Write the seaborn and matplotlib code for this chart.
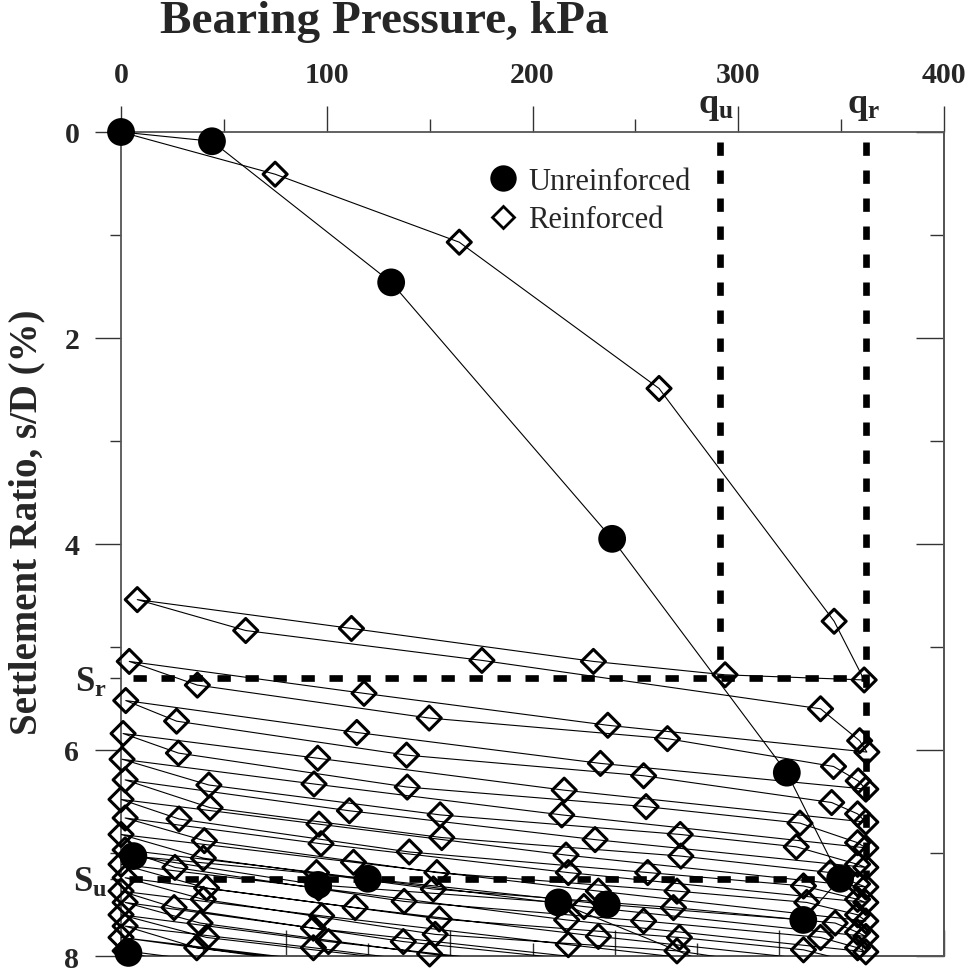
import matplotlib
matplotlib.use("Agg")
import matplotlib.pyplot as plt
from matplotlib.lines import Line2D
from matplotlib.ticker import FixedLocator
import seaborn as sns
import pandas as pd

# guide values (kPa, %)
q_u, q_r = 291, 362
s_r, s_u = 5.3, 7.25

# unreinforced footing (points past 8 % fall outside the frame)
unrf_p = [0, 44.2, 131.3, 238.7, 323.6, 349.5, 331.6, 236.1, 120, 6, 95.8, 212.6, 320, 60, 3.6]
unrf_s = [0, 0.09, 1.46, 3.95, 6.22, 7.25, 7.65, 7.50, 7.25, 7.03, 7.31, 7.48, 8.35, 8.2, 7.97]

# reinforced footing: first loading, then unload / reload cycles
rf_p = [0, 74.9, 164.4, 261.5, 346.6, 361.2,
        293.6, 229.6, 112, 7.9,
        60.6, 175.4, 340, 359, 362.5,
        236.6, 118.1, 4,
        37.1, 149.8, 265.6, 346.3, 358.3, 362,
        233, 114.6, 2.3,
        27, 138.8, 254, 345.4, 358, 362,
        215.4, 95.6, 1,
        27.9, 139.1, 255.2, 330, 358, 362,
        214.2, 93.8, 0.5,
        42.7, 155.1, 271.8, 328.2, 358, 362,
        230.4, 111, 2,
        43.3, 155.9, 272.1, 344.8, 358, 362,
        216.3, 96.2, 0,
        28.2, 140.1, 256, 331.7, 358, 362,
        217.4, 97.2, 2,
        40.5, 153.5, 270.2, 333.3, 358, 362,
        232, 113, 0,
        40, 151.8, 268.5, 347.1, 358, 362,
        225, 95, 2,
        26.2, 137.6, 254, 340, 358, 362,
        216.6, 96, 0,
        41.6, 154.7, 271.4, 331.7, 362,
        232, 113.8, 2,
        40, 152.7, 270.2, 362,
        217.4, 97.5, 0,
        25.8, 137.2, 362,
        230, 93.5, 2,
        38.4, 150, 362,
        230, 100.8, 0,
        41.6, 362,
        230, 93.5, 2,
        36.8, 362,
        100, 0,
        362,
        100, 2]
rf_s = [0, 0.41, 1.07, 2.49, 4.75, 5.32,
        5.27, 5.14, 4.82, 4.54,
        4.84, 5.13, 5.60, 5.91, 6.02,
        5.76, 5.45, 5.14,
        5.37, 5.69, 5.89, 6.16, 6.30, 6.38,
        6.13, 5.83, 5.52,
        5.72, 6.05, 6.25, 6.51, 6.62, 6.70,
        6.39, 6.08, 5.84,
        6.03, 6.36, 6.55, 6.71, 6.90, 6.95,
        6.63, 6.33, 6.09,
        6.34, 6.63, 6.82, 6.94, 7.11, 7.14,
        6.87, 6.59, 6.29,
        6.56, 6.85, 7.03, 7.19, 7.30, 7.33,
        7.02, 6.72, 6.48,
        6.67, 6.99, 7.19, 7.32, 7.45, 7.48,
        7.19, 6.91, 6.66,
        6.88, 7.19, 7.37, 7.48, 7.60, 7.66,
        7.37, 7.09, 6.82,
        7.05, 7.35, 7.53, 7.68, 7.77, 7.81,
        7.52, 7.19, 6.97,
        7.14, 7.47, 7.66, 7.82, 7.92, 7.96,
        7.65, 7.34, 7.11,
        7.34, 7.64, 7.82, 7.94, 8.09,
        7.81, 7.53, 7.24,
        7.45, 7.79, 7.95, 8.22,
        7.89, 7.61, 7.37,
        7.53, 7.86, 8.33,
        8.03, 7.73, 7.48,
        7.68, 7.98, 8.45,
        8.15, 7.86, 7.60,
        7.82, 8.56,
        8.26, 7.92, 7.71,
        7.92, 8.67,
        8.06, 7.82,
        8.80,
        8.20, 7.95]

sns.set_style("ticks")
plt.rcParams["font.family"] = ["Liberation Serif", "DejaVu Serif"]
plt.rcParams["mathtext.fontset"] = "custom"
plt.rcParams["mathtext.bf"] = "Liberation Serif:bold"
plt.rcParams["mathtext.rm"] = "Liberation Serif:bold"
plt.rcParams["mathtext.it"] = "Liberation Serif:bold"

fig = plt.figure(figsize=(9.69, 9.70), dpi=100)
ax = fig.add_axes([0.1249, 0.0134, 0.8493, 0.8495])

rf = pd.DataFrame({"p": rf_p, "s": rf_s})
unrf = pd.DataFrame({"p": unrf_p, "s": unrf_s})

# lines are clipped by the frame, symbols on the scale are drawn whole
sns.lineplot(data=rf, x="p", y="s", sort=False, estimator=None, ax=ax,
             color="k", linewidth=0.8, zorder=3)
sns.lineplot(data=unrf, x="p", y="s", sort=False, estimator=None, ax=ax,
             color="k", linewidth=0.8, zorder=4)
sns.scatterplot(data=rf[rf.s <= 8], x="p", y="s", ax=ax, marker="D", s=150,
                facecolors="none", edgecolor="k", linewidth=2.2, zorder=5, clip_on=False)
sns.scatterplot(data=unrf[unrf.s <= 8], x="p", y="s", ax=ax, marker="o", s=400,
                color="k", edgecolor="none", linewidth=0, zorder=6, clip_on=False)

# guide lines
dash = dict(color="k", linewidth=4.8, dashes=(2.0, 2.2), zorder=2)
ax.plot([6, q_r], [s_r, s_r], **dash)
ax.plot([4, 349.5], [s_u, s_u], **dash)
ax.plot([q_u, q_u], [0.1, s_r], **dash)
ax.plot([q_r, q_r], [0.1, s_u], **dash)

ax.set_xlim(0, 400)
ax.set_ylim(8, 0)
ax.set_xlabel("")
ax.set_ylabel("")

spine_c = "#555555"
for sp in ax.spines.values():
    sp.set_visible(True)
    sp.set_color(spine_c)
    sp.set_linewidth(1.3)

# top axis: pressure
ax.xaxis.tick_top()
ax.set_xticks([0, 100, 200, 300, 400])
ax.xaxis.set_minor_locator(FixedLocator([50, 150, 250, 350]))
ax.tick_params(axis="x", which="major", direction="out", length=19, width=1,
               color="#333333", labelsize=21.5, pad=13)
ax.tick_params(axis="x", which="minor", direction="out", length=9.5, width=1, color="#333333")

# left axis: settlement
ax.set_yticks([0, 2, 4, 6, 8])
ax.set_yticks([1, 3, 5, 7, s_r, s_u], minor=True)
ax.set_yticklabels(["", "", "", "", r"$\mathbf{S}_{\mathbf{r}}$", r"$\mathbf{S}_{\mathbf{u}}$"], minor=True)
ax.tick_params(axis="y", which="major", direction="out", length=19, width=1,
               color="#333333", labelsize=21.5, pad=11, right=False)
ax.tick_params(axis="y", which="minor", direction="out", length=8, width=1,
               color="#333333", labelsize=25, pad=2, right=False)
for lbl in ax.get_xticklabels() + ax.get_yticklabels():
    lbl.set_fontweight("bold")

# inward ticks on right and bottom
sec_y = ax.secondary_yaxis("right")
sec_y.set_yticks([0, 2, 4, 6, 8])
sec_y.yaxis.set_minor_locator(FixedLocator([1, 3, 5, 7]))
sec_y.tick_params(which="major", direction="in", length=20, width=1, color="#333333", labelright=False)
sec_y.tick_params(which="minor", direction="in", length=10, width=1, color="#333333")
sec_y.spines["right"].set_color(spine_c)
sec_y.spines["right"].set_linewidth(1.3)

sec_x = ax.secondary_xaxis("bottom")
sec_x.set_xticks([0, 80, 160, 240, 320, 400])
sec_x.xaxis.set_minor_locator(FixedLocator([40, 120, 200, 280, 360]))
sec_x.tick_params(which="major", direction="in", length=19, width=1, color="#333333", labelbottom=False)
sec_x.tick_params(which="minor", direction="in", length=9.5, width=1, color="#333333")
sec_x.spines["bottom"].set_color(spine_c)
sec_x.spines["bottom"].set_linewidth(1.3)

# q labels above the frame
ax.text(q_u - 2, -0.1, r"$\mathbf{q}_{\mathbf{u}}$", ha="center", va="bottom", fontsize=26, clip_on=False)
ax.text(q_r - 1, -0.1, r"$\mathbf{q}_{\mathbf{r}}$", ha="center", va="bottom", fontsize=26, clip_on=False)

handles = [Line2D([], [], ls="none", marker="o", markersize=19, color="k", markeredgewidth=0),
           Line2D([], [], ls="none", marker="D", markersize=11, markerfacecolor="none",
                  markeredgecolor="k", markeredgewidth=2)]
ax.legend(handles, ["Unreinforced", "Reinforced"], loc="upper left", bbox_to_anchor=(0.445, 0.958),
          frameon=False, fontsize=22, handlelength=1.0, handletextpad=0.33,
          labelspacing=0.32, borderaxespad=0, borderpad=0)

fig.text(384 / 969, 1 - 22 / 970, "Bearing Pressure, kPa", ha="center", va="center",
         fontsize=34, fontweight="bold")
fig.text(27 / 969, 0.462, "Settlement Ratio, s/D (%)", ha="center", va="center",
         rotation=90, fontsize=28, fontweight="bold")

fig.savefig("out.png", dpi=100)
